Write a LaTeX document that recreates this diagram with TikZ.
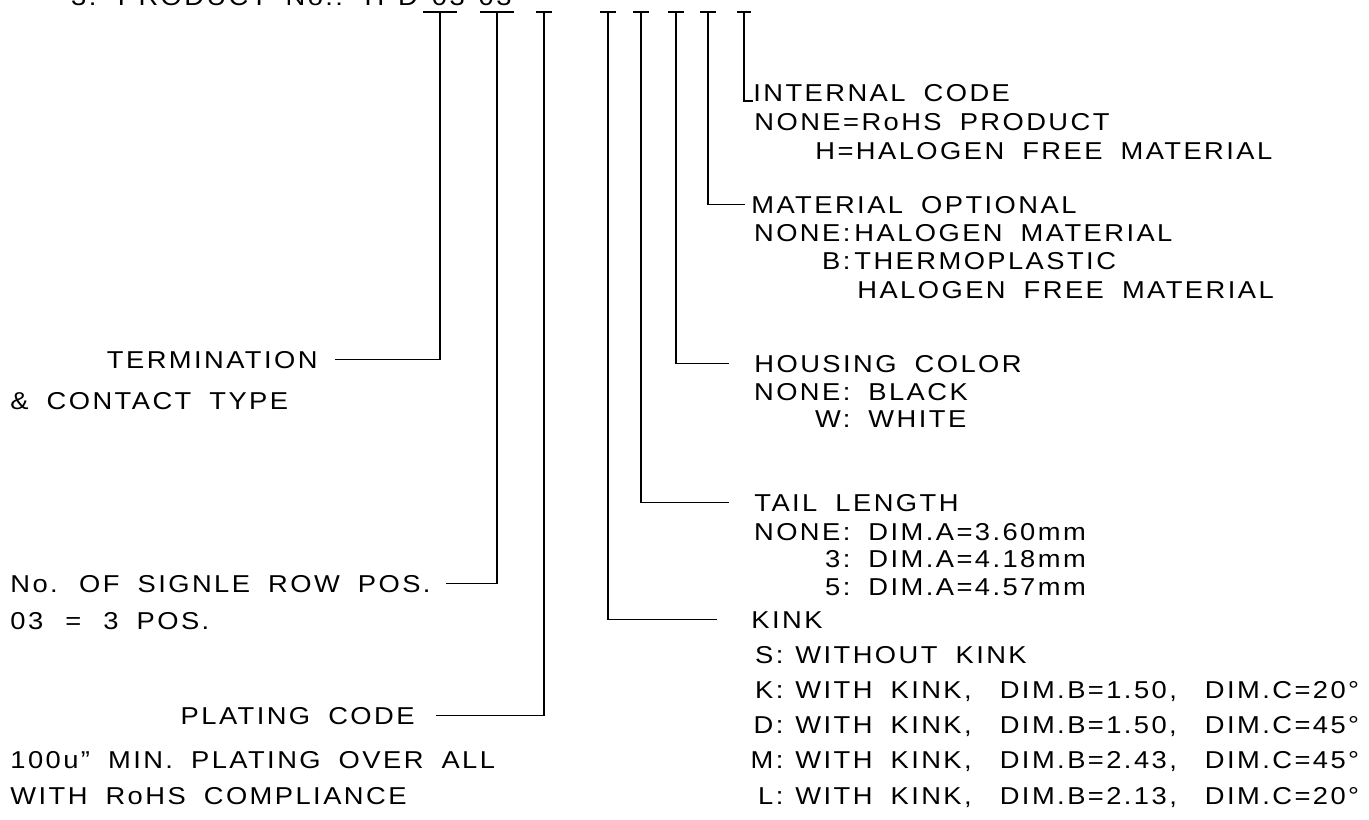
\documentclass[tikz,border=0pt]{standalone}
\usepackage{fontspec}
\setmainfont{Liberation Sans}[FakeStretch=1.12,LetterSpace=10,WordSpace=1.8]
\usetikzlibrary{positioning}
\newcommand\codebox[2]{\makebox[#1][r]{#2}}

\begin{document}
\begin{tikzpicture}[x=0.5pt,y=-0.5pt,
  txt/.style={inner sep=0pt,font=\fontsize{12.2}{14}\selectfont},
  lead/.style={line width=0.75pt}]
\useasboundingbox (0,0) rectangle (1369,819);
% product number, cut by the top edge
\node[txt,anchor=base east] (pn) at (512,5) {3. PRODUCT No.: H-D-03-03};
% tee marks under the code positions
\foreach \n/\x/\w in {a/440/34,b/497/34,c/544/16,d/608/16,e/641/16,f/676/16,g/708/16,h/744/14}{
  \coordinate (t\n) at (\x,12);
  \draw[lead] (t\n) ++(-\w/2,0) -- ++(\w,0);
}
% left column
\node[txt,anchor=base east] (term) at (318,368) {TERMINATION};
\node[txt,anchor=base west] (cont) at (10,409) {\& CONTACT TYPE};
\node[txt,anchor=base west] (rows) at (10,592) {No. OF SIGNLE ROW POS.};
\node[txt,anchor=base west] (pos) at (10,629) {03 \,=\, 3 POS.};
\node[txt,anchor=base east] (plat) at (415,724) {PLATING CODE};
\node[txt,anchor=base west] (min) at (10,768) {100u” MIN. PLATING OVER ALL};
\node[txt,anchor=base west] (comp) at (10,804) {WITH RoHS COMPLIANCE};
\draw[lead,shorten >=8.5pt] (ta) |- (term.east);
\draw[lead,shorten >=7.5pt] (tb) |- (rows.east);
\draw[lead,shorten >=10.5pt] (tc) |- (plat.east);
% right column
\node[txt,anchor=base west] (int) at (753,101) {INTERNAL CODE};
\node[txt,anchor=base west] (int1) at (754,130) {NONE=RoHS PRODUCT};
\node[txt,anchor=base west] (int2) at (815,159) {H=HALOGEN FREE MATERIAL};
\node[txt,anchor=base west] (mat) at (751,213) {MATERIAL OPTIONAL};
\node[txt,anchor=base west] (mat1) at (754,241) {\codebox{48pt}{NONE:}\hspace{2pt}HALOGEN MATERIAL};
\node[txt,anchor=base west] (mat2) at (754,269) {\codebox{48pt}{B:}\hspace{2pt}THERMOPLASTIC};
\node[txt,anchor=base west] (mat3) at (857,298) {HALOGEN FREE MATERIAL};
\node[txt,anchor=base west] (hous) at (754,372) {HOUSING COLOR};
\node[txt,anchor=base west] (hous1) at (754,400) {\codebox{48pt}{NONE:}\hspace{9pt}BLACK};
\node[txt,anchor=base west] (hous2) at (754,427) {\codebox{48pt}{W:}\hspace{9pt}WHITE};
\node[txt,anchor=base west] (tail) at (754,511) {TAIL LENGTH};
\node[txt,anchor=base west] (tail1) at (754,540) {\codebox{48pt}{NONE:}\hspace{9pt}DIM.A=3.60mm};
\node[txt,anchor=base west] (tail2) at (754,567) {\codebox{48pt}{3:}\hspace{9pt}DIM.A=4.18mm};
\node[txt,anchor=base west] (tail3) at (754,595) {\codebox{48pt}{5:}\hspace{9pt}DIM.A=4.57mm};
\node[txt,anchor=base west] (kink) at (751,628) {KINK};
\node[txt,anchor=base west] (kink1) at (748,663) {\codebox{17.5pt}{S:}\hspace{6pt}WITHOUT KINK};
\node[txt,anchor=base west] (kink2) at (748,698) {\codebox{17.5pt}{K:}\hspace{6pt}WITH KINK,\hspace{5pt} DIM.B=1.50,\hspace{5pt} DIM.C=20°};
\node[txt,anchor=base west] (kink3) at (748,733) {\codebox{17.5pt}{D:}\hspace{6pt}WITH KINK,\hspace{5pt} DIM.B=1.50,\hspace{5pt} DIM.C=45°};
\node[txt,anchor=base west] (kink4) at (748,768) {\codebox{17.5pt}{M:}\hspace{6pt}WITH KINK,\hspace{5pt} DIM.B=2.43,\hspace{5pt} DIM.C=45°};
\node[txt,anchor=base west] (kink5) at (748,804) {\codebox{17.5pt}{L:}\hspace{6pt}WITH KINK,\hspace{5pt} DIM.B=2.13,\hspace{5pt} DIM.C=20°};
\draw[lead] (th) |- (int.base west);
\draw[lead,shorten >=3pt] (tg) |- (mat.west);
\draw[lead,shorten >=12.5pt] (tf) |- (hous.west);
\draw[lead,shorten >=12.5pt] (te) |- (tail.west);
\draw[lead,shorten >=17pt] (td) |- (kink.west);
\end{tikzpicture}
\end{document}
